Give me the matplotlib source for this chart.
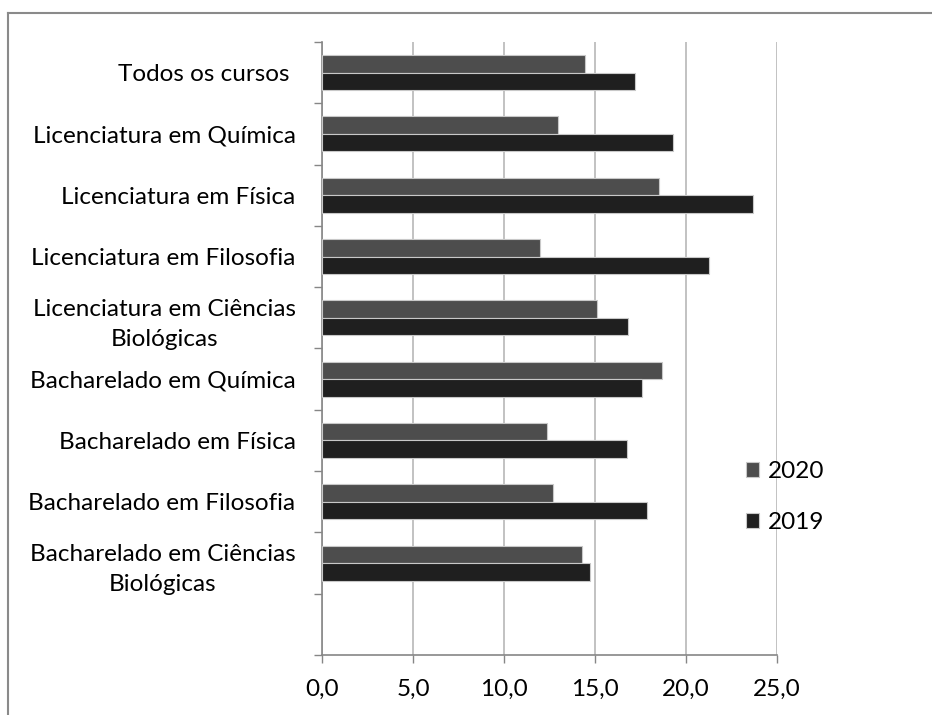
import matplotlib.pyplot as plt
from matplotlib.lines import Line2D
import numpy as np

plt.rcParams['font.family'] = ['Lato', 'DejaVu Sans']

# categories, top to bottom
cursos = ['Todos os cursos ',
          'Licenciatura em Química',
          'Licenciatura em Física',
          'Licenciatura em Filosofia',
          'Licenciatura em Ciências\nBiológicas',
          'Bacharelado em Química',
          'Bacharelado em Física',
          'Bacharelado em Filosofia',
          'Bacharelado em Ciências\nBiológicas']
v2020 = [14.45, 12.98, 18.5, 12.0, 15.1, 18.7, 12.36, 12.7, 14.31]
v2019 = [17.22, 19.31, 23.7, 21.28, 16.8, 17.6, 16.77, 17.83, 14.71]
xticks = [0, 5, 10, 15, 20, 25]
xlabels = ['0,0', '5,0', '10,0', '15,0', '20,0', '25,0']

fig = plt.figure(figsize=(9.32, 7.15), dpi=100)
ax = fig.add_axes([322/932, 1-655/715, (777-322)/932, (655-42)/715])

n = len(cursos)
pos = n - np.arange(n)   # slot centres, bottom slot (0) stays empty
h = 0.285
ax.barh(pos + h/2, v2020, height=h, color='#4d4d4d', edgecolor='#c8c8c8', linewidth=0.8, label='2020', zorder=3)
ax.barh(pos - h/2, v2019, height=h, color='#1f1f1f', edgecolor='#c8c8c8', linewidth=0.8, label='2019', zorder=3)

ax.set_xlim(0, 25)
ax.set_ylim(-0.5, n + 0.5)
ax.set_xticks(xticks)
ax.set_xticklabels(xlabels, fontsize=17.5)
ax.set_yticks(pos)
ax.set_yticklabels(cursos, fontsize=17.5, multialignment='center', linespacing=1.55)
ax.set_yticks(np.arange(-0.5, n + 1), minor=True)
ax.tick_params(axis='y', which='major', length=0, pad=19)
ax.tick_params(axis='y', which='minor', length=6, color='#868686', width=1)
ax.tick_params(axis='x', length=6, color='#868686', width=1, pad=11)
ax.grid(axis='x', color='#b8b8b8', linewidth=1.2, zorder=0)
for s in ['top', 'right']:
    ax.spines[s].set_visible(False)
for s in ['left', 'bottom']:
    ax.spines[s].set_color('#868686')
    ax.spines[s].set_linewidth(1.2)

ax.legend(loc='center left', bbox_to_anchor=(724/932, 1-497/715), bbox_transform=fig.transFigure,
          frameon=False, fontsize=17.5, handlelength=0.55, handleheight=0.55, handletextpad=0.35,
          labelspacing=1.25)

# chart border (left and top only visible)
fig.add_artist(Line2D([8/932, 8/932], [0, 1-13/715], color='#8a8a8a', lw=1.5))
fig.add_artist(Line2D([8/932, 1], [1-13/715, 1-13/715], color='#8a8a8a', lw=1.5))

fig.savefig('out.png', dpi=100)
